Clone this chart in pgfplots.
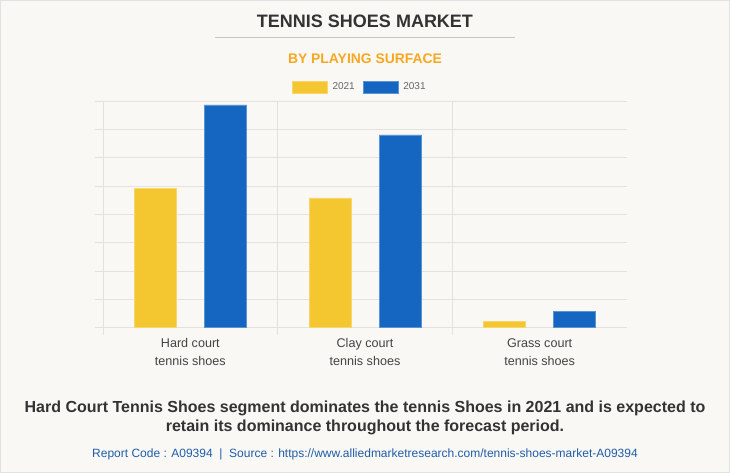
\documentclass[border=0pt]{standalone}
\usepackage{pgfplots}
\pgfplotsset{compat=1.18}
\usepackage{fontspec}
\setmainfont{Liberation Sans}
\definecolor{bgc}{HTML}{F9F8F4}
\definecolor{borderc}{HTML}{E2E2E2}
\definecolor{gridc}{HTML}{E3E2DF}
\definecolor{yel}{HTML}{F4C62F}
\definecolor{blu}{HTML}{1466C1}
\definecolor{titlec}{HTML}{333333}
\definecolor{orangec}{HTML}{F7A823}
\definecolor{tickc}{HTML}{444444}
\definecolor{legc}{HTML}{666666}
\definecolor{footc}{HTML}{1F5DAA}
\begin{document}
\begin{tikzpicture}[x=1pt,y=1pt]
\fill[bgc,draw=borderc,line width=1pt] (0.5,0.5) rectangle (729.5,472.5);
\useasboundingbox (0,0) rectangle (730,473);
% titles
\node[font=\fontsize{18}{21}\selectfont\bfseries,text=titlec] at (365,473-21) {TENNIS SHOES MARKET};
\draw[draw=black!22,line width=0.9pt] (215,473-37.5) -- (515,473-37.5);
\node[font=\fontsize{13.9}{16}\selectfont\bfseries,text=orangec] at (365,473-59) {BY PLAYING SURFACE};
\begin{axis}[
  at={(103pt,145.3pt)}, anchor=south west,
  scale only axis, width=524pt, height=226.4pt,
  xmin=-0.5, xmax=2.5, ymin=0, ymax=8,
  axis line style={draw=none},
  ytick={0,1,...,8}, yticklabels={}, ymajorgrids=true,
  grid style={gridc,line width=0.9pt},
  ytick pos=left, xtick pos=bottom,
  tick align=outside,
  major tick length=8pt,
  ytick style={draw=gridc,line width=0.9pt},
  xtick={0,1,2},
  xticklabels={{Hard court\\tennis shoes},{Clay court\\tennis shoes},{Grass court\\tennis shoes}},
  xtick style={draw=none},
  xticklabel style={align=center,font=\fontsize{12.6}{18.4}\selectfont,text=tickc,yshift=1pt},
  extra x ticks={-0.5,0.5,1.5}, extra x tick labels={},
  extra x tick style={xmajorgrids=true, major tick length=7pt, xtick style={draw=gridc,line width=0.9pt}},
  legend style={at={(0.49,1.063)}, anchor=center, draw=none, fill=none,
    legend columns=2, font=\fontsize{10}{11}\selectfont, text=legc,
    /tikz/every even column/.append style={column sep=6pt},
    /tikz/every odd column/.append style={column sep=3pt}},
  legend image code/.code={\fill[#1] (0pt,-6pt) rectangle (35pt,6pt);},
  clip=false,
]
\addplot[ybar, bar width=42pt, bar shift=-35pt, fill=yel, draw=yel!70!white, line width=0.6pt]
  coordinates {(0,4.93) (1,4.59) (2,0.23)};
\addlegendentry{2021}
\addplot[ybar, bar width=42pt, bar shift=35pt, fill=blu, draw=blu!70!white, line width=0.6pt]
  coordinates {(0,7.87) (1,6.81) (2,0.59)};
\addlegendentry{2031}
\end{axis}
\node[font=\fontsize{16}{19}\selectfont\bfseries,text=titlec,align=center] at (365,473-417.5)
  {Hard Court Tennis Shoes segment dominates the tennis Shoes in 2021 and is expected to\\retain its dominance throughout the forecast period.};
\node[font=\fontsize{12}{14}\selectfont,text=footc] at (365,473-454)
  {Report Code : A09394~~|~~Source : https://www.alliedmarketresearch.com/tennis-shoes-market-A09394};
\end{tikzpicture}
\end{document}
